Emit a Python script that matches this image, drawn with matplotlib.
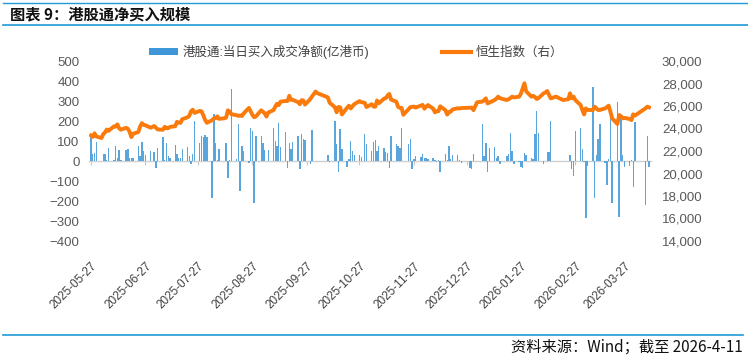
import matplotlib
matplotlib.use('Agg')
import matplotlib.pyplot as plt
import matplotlib.dates as mdates
import matplotlib.ticker as ticker
from matplotlib.patches import Patch
from matplotlib.lines import Line2D
import pandas as pd
import numpy as np

plt.rcParams['font.family'] = ['Liberation Sans', 'Noto Sans CJK SC', 'DejaVu Sans']

# trading calendar (HK market days)
start, end = '2025-05-27', '2026-04-10'
holidays = ['2025-07-01', '2025-10-01', '2025-10-07', '2025-10-29', '2025-12-25', '2025-12-26',
            '2026-01-01', '2026-02-17', '2026-02-18', '2026-02-19', '2026-04-03', '2026-04-06',
            '2026-04-07']

# 恒生指数 (right axis)
hsi = [
    23382, 23258, 23573, 23290,
    23158, 23512, 23654, 23907, 23792, 24181, 24162, 24367, 24035, 23892, 24061, 23980, 23710,
    23238, 23530, 23690, 24178, 24475, 24325, 24284, 24072,
    24221, 24070, 23916, 23888, 24148, 24028, 24028, 24140, 24203, 24590, 24518, 24499, 24826,
    24994, 25130, 25538, 25667, 25388, 25562, 25524, 25177, 24773,
    24508, 24733, 24902, 24910, 25082, 24859, 24907, 24969, 25614, 25519, 25270, 25177, 25123,
    25166, 25105, 25340, 25830, 25525, 25202, 24999, 25078,
    25617, 25497, 25343, 25059, 25418, 25633, 25939, 26200, 26086, 26388, 26446, 26438, 26908,
    26545, 26546, 26345, 26159, 26519, 26485, 26128, 26623, 26856,
    27287, 27141, 26958, 26830, 26753, 26290, 25889, 25441, 25910, 25888, 25247, 25858, 26027,
    25782, 25968, 26160, 26434, 26347, 26282, 25907,
    26158, 25952, 25936, 26486, 26242, 26650, 26696, 26923, 27073, 26572, 26385, 25930, 25831,
    25836, 25220, 25717, 25894, 25928, 25946, 25859,
    26033, 26095, 25761, 25935, 26085, 25765, 25434, 25541, 25531, 25976, 25628, 25235, 25468,
    25498, 25690, 25801, 25774, 25818, 25855, 25854, 25631,
    26330, 26390, 26500, 26680, 26230, 26300, 26530, 26650, 26830, 26700, 26650, 26530, 26600,
    26700, 26830, 26760, 26830, 27100, 27570, 28020, 27300,
    26830, 26900, 26800, 26620, 26700, 27130, 27200, 27330, 27000, 26680, 26830, 26530, 26600,
    27130, 26680, 26830, 26530,
    26090, 25650, 25250, 25790, 25650, 25640, 25940, 25800, 25640, 25650, 25790, 25900, 26030,
    25500, 24900, 24400, 25200, 25100, 24900, 24950, 24840, 24750,
    25260, 25150, 25790, 25940, 25880,
]

# 港股通:当日买入成交净额 (亿港币, left axis), 0 where southbound was closed
flow = [
    120, 33, 42, 97,
    0, 37, 33, 5, 67, 7, 75, 13, 55, 3, 55, 60, 13, 13, 13, 77, 25, 93, 50, 30, 50,
    47, -33, 67, 120, 3, 90, 27, 17, 80, 37, 17, 17, 60, 70, 27, -17, 37, 200, 92, 125, 118, 130,
    120, -183, 233, 92, 3, 60, 2, 92, -87, 5, 358, 10, 183, -150, 75, 50, -12, 163, 152, -208, 125,
    125, 88, 55, 2, 55, 167, 102, 77, 188, 72, 143, -33, 92, 60, 97, 125, -42, 133, 108, 103,
    -17, 155,
    0, 0, 0, 0, 30, -7, 200, 85, -57, 158, 60, -28, 10, 102, 50, 30, 30, 20, 135, 85,
    52, 97, 103, 50, 75, 67, 43, 38, -37, 127, 85, 73, 63, 165, 2, 85, 108, -42, 10, 25,
    18, 37, 17, 13, 8, 13, 5, -7, 5, -53, 35, 5, 77, 10, 30, 30, 5, -12, -37, -42, 33,
    2, 185, 27, 88, -53, 67, 72, 13, 27, -17, 2, 23, 35, 138, 50, -17, -7, -28, -33, 42, 30,
    17, 10, 133, 250, 138, -17, 2, 47, 43, 202, 0, 0, 0, 30, -42, -75, 150,
    165, 60, -7, -283, -23, 372, -183, 30, 112, 183, -12, -120, 10, 230, -212, 297, -278, 213,
    30, -28, -25, 5,
    -128, 197, -220, 125, -28,
]

tick_dates = ['2025-05-27', '2025-06-27', '2025-07-27', '2025-08-27', '2025-09-27', '2025-10-27',
              '2025-11-27', '2025-12-27', '2026-01-27', '2026-02-27', '2026-03-27']

days = pd.bdate_range(start, end).drop(pd.to_datetime(holidays))
assert len(days) == len(hsi) == len(flow), (len(days), len(hsi), len(flow))
x = mdates.date2num(days.to_pydatetime())
xt = mdates.date2num(pd.to_datetime(tick_dates).to_pydatetime())

BLUE = '#5aa6dc'
ORANGE = '#fa7a0c'
GREY = '#595959'
LINE_BLUE = '#1f9ad6'

fig = plt.figure(figsize=(7.48, 3.58), dpi=100)
ax = fig.add_axes([89.25 / 748, 1 - 241 / 358, (650.75 - 89.25) / 748, 180 / 358])
ax2 = ax.twinx()

ax.bar(x, flow, width=0.8, color=BLUE, linewidth=0)
ax2.plot(x, hsi, color=ORANGE, lw=2.8, solid_joinstyle='round')

ax.set_xlim(x[0] - 1, x[-1] + 1)
ax.set_ylim(-400, 500)
ax.yaxis.set_major_locator(ticker.MultipleLocator(100))
ax2.set_ylim(14000, 30000)
ax2.yaxis.set_major_locator(ticker.MultipleLocator(2000))
ax2.yaxis.set_major_formatter(ticker.FuncFormatter(lambda v, p: format(int(v), ',')))

for a in (ax, ax2):
    for s in a.spines.values():
        s.set_visible(False)
ax.tick_params(axis='y', length=0, pad=7, labelsize=9.5, labelcolor=GREY)
ax2.tick_params(axis='y', length=0, pad=8, labelsize=9.5, labelcolor=GREY)

ax.set_xticks(xt)
ax.set_xticklabels(tick_dates, rotation=45, ha='right', rotation_mode='anchor')
ax.tick_params(axis='x', length=0, pad=14, labelsize=8.5, labelcolor='#404040')

# zero axis with small tick marks
zero = ax.secondary_xaxis(4 / 9)
zero.set_xticks(xt)
zero.set_xticklabels([])
zero.tick_params(axis='x', direction='out', length=3, width=0.8, color='#c8c8c8')
zero.spines['bottom'].set_color('#d0d0d0')
zero.spines['bottom'].set_linewidth(1.0)
zero.spines['top'].set_visible(False)

# legend
handles = [Patch(facecolor='#3f96d8', edgecolor='none'),
           Line2D([0], [0], color=ORANGE, lw=3)]
labels = ['港股通:当日买入成交净额(亿港币)', '恒生指数（右）']
fig.legend(handles, labels, loc='center', bbox_to_anchor=(0.476, 1 - 52 / 358), ncol=2,
           frameon=False, fontsize=9, handlelength=2.3, handleheight=0.55,
           handletextpad=0.4, columnspacing=5.8, labelcolor='#404040')

# header / footer
fig.text(10 / 748, 1 - 14 / 358, '图表 9：港股通净买入规模', fontsize=11, fontweight='bold',
         ha='left', va='center', color='#111111', family=['Noto Sans CJK SC', 'DejaVu Sans'])
fig.add_artist(Line2D([3 / 748, 1], [1 - 2.5 / 358] * 2, color=LINE_BLUE, lw=1.0))
fig.add_artist(Line2D([3 / 748, 1], [1 - 24.5 / 358] * 2, color=LINE_BLUE, lw=1.2))
fig.add_artist(Line2D([3 / 748, 743 / 748], [1 - 335 / 358] * 2, color=LINE_BLUE, lw=1.2))
fig.text(743 / 748, 1 - 347 / 358, '资料来源：Wind；截至 2026-4-11', fontsize=11,
         ha='right', va='center', color='#111111', family=['Noto Sans CJK SC', 'DejaVu Sans'])

fig.savefig('out.png', dpi=100, facecolor='white')
